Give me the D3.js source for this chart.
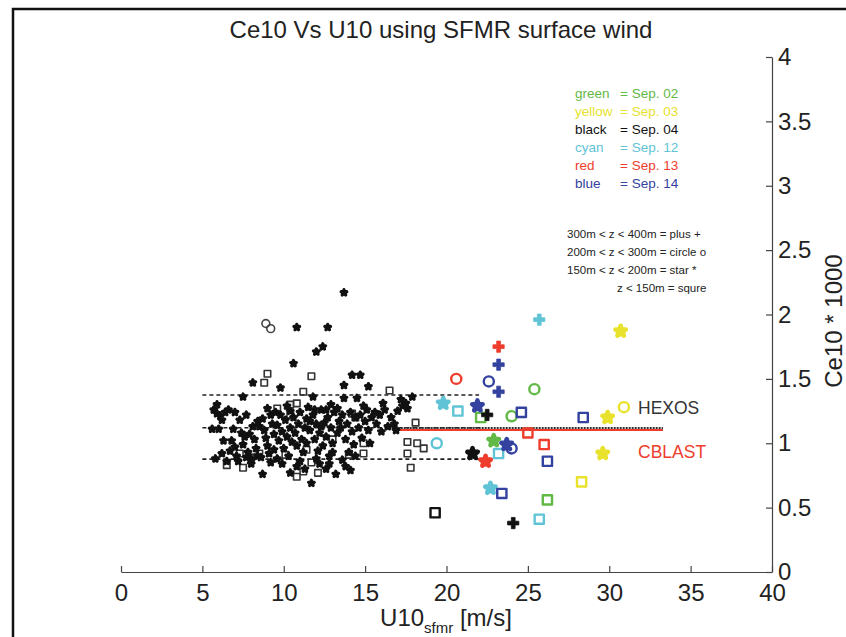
<!DOCTYPE html>
<html><head><meta charset="utf-8">
<script src="https://cdn.jsdelivr.net/npm/d3@7"></script>
<style>html,body{margin:0;padding:0;background:#fff;}svg{display:block;font-family:"Liberation Sans",Arial,sans-serif;}</style>
</head><body>
<svg id="chart" width="846" height="637"></svg>
<script>
// ---------- data ----------
const title = "Ce10 Vs U10 using SFMR surface wind";
const xTicks = [0,5,10,15,20,25,30,35,40];
const yTicks = [0,0.5,1,1.5,2,2.5,3,3.5,4];
const legendNames = ["green","yellow","black","cyan","red","blue"];
const legendDates = ["Sep. 02","Sep. 03","Sep. 04","Sep. 12","Sep. 13","Sep. 14"];
const legendColors = ["#63b946","#e8e22c","#111111","#60c4d6","#ee3d2c","#33429f"];
const markerNotes = ["300m < z < 400m = plus +","200m < z < 300m = circle o","150m < z < 200m = star *","z < 150m = squre"];

// high-wind flights: [U10, Ce10*1000, marker]
const greenPts  = [[25.4,1.42,"circle"],[22.1,1.20,"square"],[24.0,1.21,"circle"],[22.9,1.02,"star"],[26.2,0.56,"square"]];
const yellowPts = [[30.7,1.87,"star"],[29.9,1.20,"star"],[30.9,1.28,"circle"],[29.6,0.92,"star"],[28.3,0.70,"square"]];
const blackPts  = [[22.5,1.22,"plus"],[21.6,0.92,"star"],[19.3,0.46,"square"],[24.1,0.38,"plus"]];
const cyanPts   = [[25.7,1.96,"plus"],[19.8,1.31,"star"],[20.7,1.25,"square"],[19.4,1.00,"circle"],[23.2,0.92,"square"],[22.7,0.65,"star"],[25.7,0.41,"square"]];
const redPts    = [[23.2,1.75,"plus"],[20.6,1.50,"circle"],[25.0,1.08,"square"],[26.0,0.99,"square"],[22.4,0.86,"star"]];
const bluePts   = [[23.2,1.61,"plus"],[22.6,1.48,"circle"],[23.2,1.40,"plus"],[21.9,1.29,"star"],[24.6,1.24,"square"],[28.4,1.20,"square"],[23.7,0.99,"star"],[24.0,0.96,"circle"],[26.2,0.86,"square"],[23.4,0.61,"square"]];

// low-wind cluster (black)
const clusterStars = [
[5.7,1.26],[5.9,1.23],[6.1,1.21],[6.2,1.18],[6.4,1.24],[6.0,1.11],[5.8,0.88],[6.5,0.86],[6.3,1.02],[5.6,1.11],
[6.8,1.02],[6.9,1.11],[7.0,0.97],[7.1,0.90],[7.2,0.86],[7.3,1.18],[7.4,1.08],[6.7,0.94],[7.5,0.99],[7.5,1.36],
[7.6,1.05],[7.9,1.07],[8.2,1.03],[7.8,0.93],[8.0,0.88],[8.1,1.13],[8.3,0.96],[7.7,1.22],[8.4,1.17],[8.1,1.47],[8.0,0.84],[8.4,0.90],
[8.7,1.19],[8.8,1.10],[8.9,1.04],[9.0,0.98],[9.1,0.92],[9.2,1.22],[9.3,1.15],[9.4,1.07],[8.6,0.89],[9.4,0.95],[8.7,0.76],
[9.6,1.14],[9.7,1.02],[9.8,1.43],[9.8,1.22],[9.9,1.09],[10.0,0.96],[10.1,1.18],[10.2,1.05],[10.3,0.90],[10.4,1.25],[9.6,0.88],[10.4,1.12],[10.6,1.62],
[10.6,1.20],[10.7,1.08],[10.8,0.98],[10.9,1.15],[11.0,1.24],[11.1,1.03],[11.2,0.93],[11.3,1.12],[11.4,1.19],[10.8,1.90],[11.0,0.86],[11.4,1.00],
[11.6,1.10],[11.7,0.69],[11.8,1.36],[11.8,1.22],[11.9,1.03],[12.0,1.71],[12.0,1.15],[12.1,0.94],[12.2,1.08],[12.3,1.26],[12.4,1.75],[12.4,0.98],[11.6,1.17],[12.0,0.88],[12.3,1.13],
[12.6,1.05],[12.7,1.90],[12.7,1.20],[12.8,0.90],[12.9,1.12],[13.0,1.00],[13.1,1.24],[13.2,0.76],[13.3,1.08],[13.4,1.17],[12.6,1.26],[13.0,0.93],[12.8,0.84],
[13.6,1.22],[13.7,2.17],[13.7,1.45],[13.7,1.35],[13.8,1.03],[13.9,1.15],[14.0,0.93],[14.1,1.24],[14.2,1.53],[14.2,1.09],[14.3,0.99],[14.4,1.20],[14.5,1.35],[13.6,0.87],[14.4,0.90],[14.7,1.53],
[14.6,1.12],[14.7,1.22],[14.8,1.04],[15.0,1.17],[15.1,1.26],[15.2,1.44],[15.2,1.10],[15.4,1.20],[15.3,1.00],
[15.6,1.24],[15.7,1.15],[15.9,1.22],[16.0,1.09],[16.2,1.26],[16.4,1.13],[16.1,1.31],
[16.6,1.20],[16.8,1.15],[17.0,1.25],[17.2,1.34],[17.3,1.29],[17.5,1.31],[17.9,1.36],[16.9,1.10],[17.6,1.27],
[9.0,1.27],[10.2,1.29],[11.5,1.28],[12.9,1.30],[13.3,1.27],[14.9,1.29],[10.5,1.01],[11.9,1.26],[12.5,1.16],[13.5,1.12],
[9.5,1.24],[8.5,1.13],[7.0,1.24],[6.6,1.26],[5.9,1.30],[6.2,0.92],[7.7,0.89],[9.9,0.84],[10.8,0.82],[11.3,0.80],
[12.6,0.80],[13.8,0.82],[12.2,0.84],[14.1,0.79],[9.2,0.85],[10.4,0.77]
];
const clusterSquares = [
[9.0,1.54],[8.8,1.47],[11.7,1.52],[11.2,1.40],[16.5,1.41],[18.1,1.16],[9.6,1.27],[10.4,1.30],[10.8,1.31],[10.4,1.22],
[14.2,1.23],[14.4,1.20],[17.6,1.01],[18.2,1.00],[18.6,0.96],[17.6,0.92],[17.8,0.81],[14.9,1.00],[14.9,0.92],[10.8,0.74],
[11.2,0.78],[12.1,0.77],[11.7,0.85],[11.4,0.95],[6.5,0.83],[7.5,0.81],[7.3,0.92],[8.0,0.89],[8.5,0.92],[10.1,0.91],[14.0,0.91],[13.0,1.03]
];
const clusterCircles = [[8.9,1.93],[9.2,1.89]];

// reference lines: [x0, x1, y]
const meanLine  = [5, 22, 1.12];
const upperLine = [5, 22, 1.375];
const lowerLine = [5, 22, 0.877];
const hexosLine = [17, 33.3, 1.118];
const cblastLine = [17, 33.3, 1.103];

// ---------- drawing ----------
const svg = d3.select("#chart");
const x = d3.scaleLinear().domain([0,40]).range([121,772]);
const y = d3.scaleLinear().domain([0,4]).range([572,57]);

// outer frame (top and left edges visible)
svg.append("path").attr("d","M13,637 L13,9 L846,9")
  .attr("fill","none").attr("stroke","#111").attr("stroke-width",2.5);

// title
svg.append("text").attr("x",441).attr("y",38).attr("text-anchor","middle")
  .attr("font-size",24).attr("fill","#222").text(title);

// axes
const xAxis = svg.append("g").attr("transform","translate(0,572)")
  .call(d3.axisBottom(x).tickValues(xTicks).tickSizeInner(-6).tickSizeOuter(0).tickPadding(12).tickFormat(d3.format("d")));
const yAxis = svg.append("g").attr("transform","translate(772,0)")
  .call(d3.axisRight(y).tickValues(yTicks).tickSizeInner(-6).tickSizeOuter(0).tickPadding(6).tickFormat(d => d3.format("")(d)));
[xAxis,yAxis].forEach(g=>{
  g.selectAll("path.domain").attr("stroke","#444").attr("stroke-width",1.2);
  g.selectAll(".tick line").attr("stroke","#444").attr("stroke-width",1.2);
  g.selectAll(".tick text").attr("font-size",24).attr("fill","#222").attr("font-family","Liberation Sans, Arial, sans-serif");
});

// axis titles
const xl = svg.append("text").attr("x",446).attr("y",626).attr("text-anchor","middle")
  .attr("font-size",24).attr("fill","#222");
xl.append("tspan").text("U10");
xl.append("tspan").attr("font-size",15).attr("dy",7).text("sfmr");
xl.append("tspan").attr("dy",-7).text(" [m/s]");
svg.append("text").attr("transform","translate(842,321) rotate(-90)").attr("text-anchor","middle")
  .attr("font-size",24).attr("fill","#222").text("Ce10 * 1000");

// reference lines
function hline(l, color, w, dash){
  svg.append("line").attr("x1",x(l[0])).attr("x2",x(l[1])).attr("y1",y(l[2])).attr("y2",y(l[2]))
    .attr("stroke",color).attr("stroke-width",w).attr("stroke-dasharray",dash);
}
hline(upperLine,"#222",1.6,"4,3");
hline(meanLine,"#222",1.6,"4,3");
hline(lowerLine,"#222",1.6,"4,3");
hline(cblastLine,"#ee3d2c",2.2,null);
hline(hexosLine,"#333",2,"2,1");

svg.append("text").attr("x",638).attr("y",414).attr("font-size",17.5).attr("fill","#333").text("HEXOS");
svg.append("text").attr("x",638).attr("y",458).attr("font-size",17.5).attr("fill","#ee3d2c").text("CBLAST");

// legend
legendNames.forEach((n,i)=>{
  const t = svg.append("text").attr("x",575).attr("y",98+i*18).attr("font-size",13.5).attr("fill",legendColors[i]);
  t.append("tspan").text(n);
  t.append("tspan").attr("x",620).text("= " + legendDates[i]);
});
markerNotes.forEach((s,i)=>{
  svg.append("text").attr("x", i===3 ? 617 : 567).attr("y",238+i*18).attr("font-size",11.5).attr("fill","#222").text(s);
});

// markers
const shapes = {
  star: d3.symbolStar,
  square: d3.symbolSquare,
  circle: d3.symbolCircle,
  plus: d3.symbolCross
};
function drawPoints(pts, color, big){
  const g = svg.append("g");
  pts.forEach(p=>{
    const m = p[2];
    let size, fill, stroke, sw;
    if(big){
      if(m==="star"){size=34; fill=color; stroke=color; sw=4.5;}
      else if(m==="square"){size=85; fill="none"; stroke=color; sw=2.4;}
      else if(m==="circle"){size=80; fill="none"; stroke=color; sw=2.4;}
      else {size=70; fill=color; stroke=color; sw=0.8;}
    } else {
      if(m==="star"){size=10; fill=color; stroke=color; sw=3.2;}
      else if(m==="square"){size=42; fill="none"; stroke="#333"; sw=1.6;}
      else {size=48; fill="none"; stroke="#444"; sw=1.6;}
    }
    g.append("path").attr("d", d3.symbol().type(shapes[m]).size(size)())
      .attr("transform",`translate(${x(p[0])},${y(p[1])})`)
      .attr("fill",fill).attr("stroke",stroke).attr("stroke-width",sw).attr("stroke-linejoin","round");
  });
}
drawPoints(clusterSquares.map(d=>[d[0],d[1],"square"]),"#111",false);
drawPoints(clusterCircles.map(d=>[d[0],d[1],"circle"]),"#111",false);
drawPoints(clusterStars.map(d=>[d[0],d[1],"star"]),"#111",false);
drawPoints(greenPts, legendColors[0], true);
drawPoints(yellowPts, legendColors[1], true);
drawPoints(blackPts, legendColors[2], true);
drawPoints(cyanPts, legendColors[3], true);
drawPoints(redPts, legendColors[4], true);
drawPoints(bluePts, legendColors[5], true);
</script>
</body></html>
